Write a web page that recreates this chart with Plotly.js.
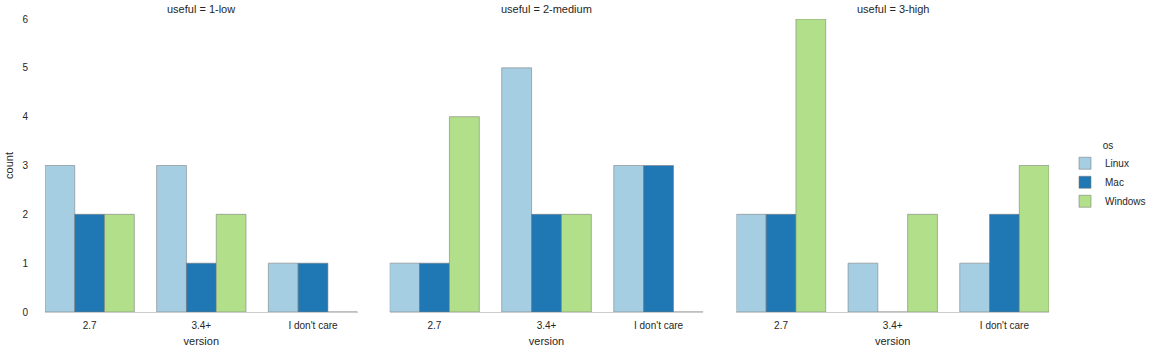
<!DOCTYPE html>
<html>
<head>
<meta charset="utf-8">
<script src="https://cdn.plot.ly/plotly-3.0.1.min.js"></script>
<style>html,body{margin:0;padding:0;background:#fff;}#chart{width:1151px;height:352px;}</style>
</head>
<body>
<div id="chart"></div>
<script>
const versions = ["2.7", "3.4+", "I don't care"];
const facets = ["1-low", "2-medium", "3-high"];
const osNames = ["Linux", "Mac", "Windows"];
// counts[facet][os] per version
const linuxCounts   = [[3, 3, 1], [1, 5, 3], [2, 1, 1]];
const macCounts     = [[2, 1, 1], [1, 2, 3], [2, 0, 2]];
const windowsCounts = [[2, 2, 0], [4, 2, 0], [6, 2, 3]];
const colors = ["#a6cee3", "#1f78b4", "#b2df8a"];

const W = 1151;
const domainsPx = [[45, 358], [390, 704], [737, 1050]];
const seriesCounts = [linuxCounts, macCounts, windowsCounts];

const traces = [];
facets.forEach((f, fi) => {
  const ax = fi === 0 ? "" : String(fi + 1);
  osNames.forEach((os, oi) => {
    traces.push({
      type: "bar",
      x: versions,
      y: seriesCounts[oi][fi],
      name: os,
      legendgroup: os,
      showlegend: fi === 0,
      xaxis: "x" + ax,
      yaxis: "y" + ax,
      marker: {color: colors[oi], line: {color: "rgba(120,120,120,0.55)", width: 1}},
      hoverinfo: "x+y+name"
    });
  });
});

const font = {family: "Liberation Sans, Arial, sans-serif", size: 10, color: "#262626"};
const layout = {
  width: W, height: 352,
  margin: {l: 0, r: 0, t: 19, b: 40},
  paper_bgcolor: "#fff", plot_bgcolor: "#fff",
  font: font,
  barmode: "group", bargap: 0.2, bargroupgap: 0,
  showlegend: true,
  legend: {
    x: 1066 / W, xanchor: "left", y: 0.465, yanchor: "middle",
    title: {text: "os", side: "top center", font: {size: 10}},
    font: {size: 10}, itemwidth: 30, tracegroupgap: 0
  },
  annotations: [],
  shapes: []
};

facets.forEach((f, fi) => {
  const ax = fi === 0 ? "" : String(fi + 1);
  const d = domainsPx[fi];
  layout["xaxis" + ax] = {
    domain: [d[0] / W, d[1] / W],
    type: "category",
    range: [-0.4, 2.4],
    showline: true, linecolor: "#cccccc", linewidth: 1.2,
    showgrid: false, zeroline: false, ticks: "",
    tickfont: {size: 10}, ticklabelstandoff: 4,
    title: {text: "version", font: {size: 11}, standoff: 7},
    fixedrange: true
  };
  layout["yaxis" + ax] = {
    domain: [0, 1],
    anchor: "x" + ax,
    range: [0, 6],
    dtick: 1,
    showline: false, showgrid: false, zeroline: false, ticks: "",
    showticklabels: fi === 0,
    tickfont: {size: 10},
    ticklabelstandoff: 16,
    title: fi === 0 ? {text: "count", font: {size: 11}, standoff: 6} : {text: ""},
    fixedrange: true
  };
  if (fi > 0) layout["yaxis" + ax].matches = "y";
  layout.annotations.push({
    text: "useful = " + f,
    xref: "paper", yref: "paper",
    x: (d[0] + d[1]) / 2 / W, y: 1, yanchor: "bottom", xanchor: "center",
    yshift: 2, showarrow: false, font: {size: 11, color: "#262626"}
  });
});

Plotly.newPlot("chart", traces, layout, {displayModeBar: false, staticPlot: true});
</script>
</body>
</html>
